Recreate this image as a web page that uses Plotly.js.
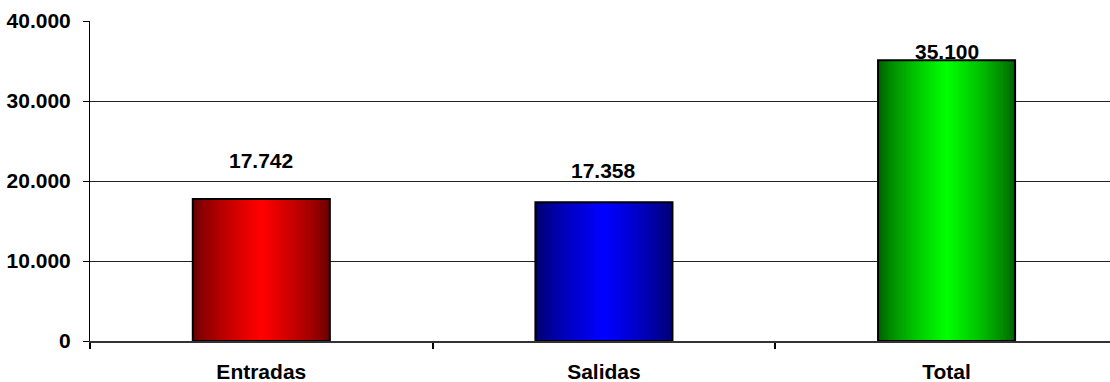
<!DOCTYPE html>
<html>
<head>
<meta charset="utf-8">
<script src="https://cdn.plot.ly/plotly-3.0.1.min.js"></script>
<style>html,body{margin:0;padding:0;background:#fff;}#chart{width:1110px;height:382px;}</style>
</head>
<body>
<div id="chart"></div>
<script>
// Data
const categories = ["Entradas", "Salidas", "Total"];
const values = [17742, 17358, 35100];
const yTickValues = [0, 10000, 20000, 30000, 40000];
const yTickLabels = ["0", "10.000", "20.000", "30.000", "40.000"];

// Styling
const darkColors = [[105, 0, 0], [0, 0, 110], [0, 95, 0]];
const brightColors = [[255, 0, 0], [0, 0, 255], [0, 255, 0]];
const labelShift = [39, 32, 9]; // px above bar top (label centre)
const BAR_W = 0.40;
const N = 36;

function mix(a, b, t) {
  return 'rgb(' + a.map((v, i) => Math.round(v + (b[i] - v) * t)).join(',') + ')';
}
function fmt(v) { return String(v).replace(/\B(?=(\d{3})+(?!\d))/g, '.'); }

const traces = [];
for (let k = 0; k < N; k++) {
  const t = Math.pow(k / (N - 1), 0.75);
  traces.push({
    type: 'bar', x: categories, y: values,
    width: BAR_W * (1 - k / N),
    marker: { color: categories.map((_, i) => mix(darkColors[i], brightColors[i], t)), line: { width: 0 } },
    hoverinfo: 'skip', showlegend: false
  });
}
traces.push({
  type: 'bar', x: categories, y: values, width: BAR_W,
  marker: { color: 'rgba(0,0,0,0)', line: { color: '#000', width: 2 } },
  hoverinfo: 'skip', showlegend: false
});

const font = { family: '"Liberation Sans", Arial, sans-serif', size: 21, color: '#000', weight: 'bold' };

const annotations = categories.map((c, i) => ({
  x: c, y: values[i], xref: 'x', yref: 'y',
  text: fmt(values[i]), showarrow: false,
  xanchor: 'center', yanchor: 'middle', yshift: labelShift[i],
  font: font
}));

const layout = {
  width: 1110, height: 382,
  margin: { l: 90, r: 0, t: 21, b: 41, pad: 0 },
  paper_bgcolor: '#fff', plot_bgcolor: '#fff',
  barmode: 'overlay', bargap: 0,
  showlegend: false, hovermode: false,
  font: font,
  xaxis: {
    type: 'category', range: [-0.5, 2.477],
    showgrid: false, zeroline: false,
    showline: true, linecolor: '#333', linewidth: 2,
    ticks: 'outside', tickson: 'boundaries', ticklen: 6, tickcolor: '#000', tickwidth: 2,
    tickfont: font, ticklabelstandoff: 11
  },
  yaxis: {
    range: [0, 40000], tickmode: 'array', tickvals: yTickValues, ticktext: yTickLabels,
    showgrid: true, gridcolor: '#222', gridwidth: 1,
    zeroline: false, showline: true, linecolor: '#000', linewidth: 1,
    ticks: 'outside', ticklen: 6, tickcolor: '#000',
    tickfont: font, ticklabelstandoff: 8
  },
  annotations: annotations
};

Plotly.newPlot('chart', traces, layout, { displayModeBar: false, staticPlot: true });
</script>
</body>
</html>
